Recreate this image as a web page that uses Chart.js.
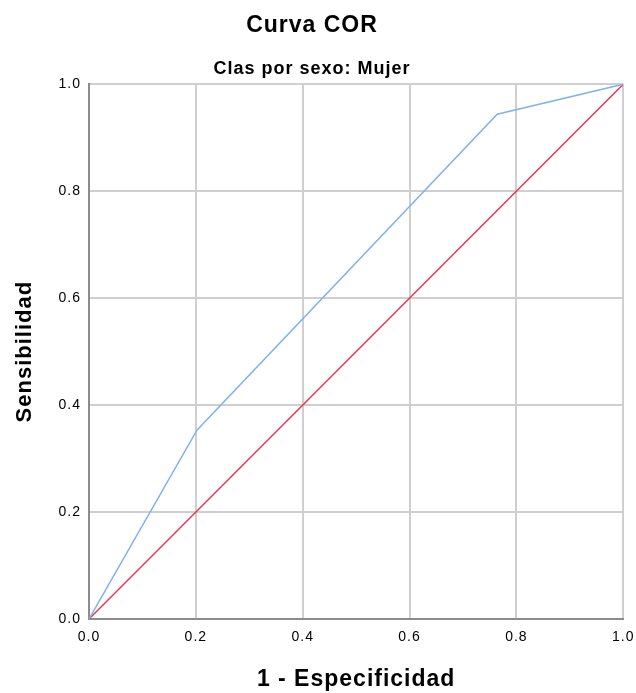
<!DOCTYPE html>
<html>
<head>
<meta charset="utf-8">
<script src="https://cdn.jsdelivr.net/npm/chart.js@4"></script>
<style>
  html, body { margin: 0; padding: 0; background: #fff; }
  #wrap { width: 636px; height: 693px; }
</style>
</head>
<body>
<div id="wrap"><canvas id="roc" width="636" height="693"></canvas></div>
<script>
// ROC curve data (1 - specificity, sensitivity)
const fpr = [0, 0.202, 0.764, 1];
const tpr = [0, 0.353, 0.944, 1];
// reference diagonal
const refX = [0, 1];
const refY = [0, 1];
const tickValues = [0, 0.2, 0.4, 0.6, 0.8, 1.0];

const font = 'Arial, "Liberation Sans", sans-serif';

function toPoints(xs, ys) {
    return xs.map(function (x, i) { return { x: x, y: ys[i] }; });
}

// the source renders its text slightly spaced out
const spacedText = {
    id: 'spacedText',
    beforeDraw: function (chart) {
        chart.ctx.letterSpacing = '1px';
    }
};

new Chart(document.getElementById('roc'), {
    type: 'scatter',
    data: {
        datasets: [
            {
                label: 'Curva',
                data: toPoints(fpr, tpr),
                showLine: true,
                borderColor: '#7fb2ee',
                borderWidth: 1.5,
                pointRadius: 0,
                tension: 0
            },
            {
                label: 'Referencia',
                data: toPoints(refX, refY),
                showLine: true,
                borderColor: '#e23a5c',
                borderWidth: 1.5,
                pointRadius: 0
            }
        ]
    },
    plugins: [spacedText],
    options: {
        responsive: false,
        animation: false,
        layout: { padding: { left: 0, right: 12, top: 8, bottom: 0 } },
        plugins: {
            legend: { display: false },
            tooltip: { enabled: false },
            title: {
                display: true,
                text: 'Curva COR',
                color: '#000',
                font: { family: font, size: 23, weight: 'bold' },
                padding: { top: 4, bottom: 19 }
            },
            subtitle: {
                display: true,
                text: 'Clas por sexo: Mujer',
                color: '#000',
                font: { family: font, size: 18, weight: 'bold' },
                padding: { top: 0, bottom: 4 }
            }
        },
        scales: {
            x: {
                type: 'linear',
                min: 0, max: 1,
                afterBuildTicks: function (axis) {
                    axis.ticks = tickValues.map(function (v) { return { value: v }; });
                },
                afterFit: function (scale) { scale.height = 74; },
                ticks: {
                    color: '#000',
                    font: { family: font, size: 14 },
                    padding: 3,
                    maxRotation: 0,
                    callback: function (v) { return v.toFixed(1); }
                },
                grid: { color: '#cfcfcf', lineWidth: 2, drawTicks: true, tickLength: 7, tickColor: 'rgba(0,0,0,0)' },
                border: { color: '#8c8c8c', width: 2 },
                title: {
                    display: true,
                    text: '1 - Especificidad',
                    color: '#000',
                    font: { family: font, size: 23, weight: 'bold' },
                    padding: { top: 20, bottom: 0 }
                }
            },
            y: {
                type: 'linear',
                min: 0, max: 1,
                afterBuildTicks: function (axis) {
                    axis.ticks = tickValues.map(function (v) { return { value: v }; });
                },
                afterFit: function (scale) { scale.width = 89; },
                ticks: {
                    color: '#000',
                    font: { family: font, size: 14 },
                    padding: 8,
                    callback: function (v) { return v.toFixed(1); }
                },
                grid: { color: '#cfcfcf', lineWidth: 2, drawTicks: false },
                border: { color: '#8c8c8c', width: 2 },
                title: {
                    display: true,
                    text: 'Sensibilidad',
                    color: '#000',
                    font: { family: font, size: 22, weight: 'bold' },
                    padding: { top: 12, bottom: 10 }
                }
            }
        }
    }
});
</script>
</body>
</html>
